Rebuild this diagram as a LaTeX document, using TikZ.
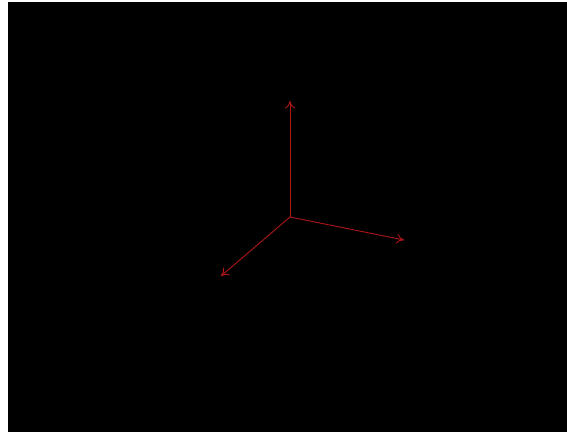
\documentclass[tikz,border=0pt]{standalone}
\usetikzlibrary{arrows.meta}
\definecolor{axisred}{RGB}{175,22,22}
\tikzset{axis/.style={draw=axisred,line width=0.9pt,-{To[length=7.5pt,width=10pt]}}}
\begin{document}
\begin{tikzpicture}[x=1pt,y=-1pt]
\useasboundingbox (0,0) rectangle (567,432);
\fill[black] (8,2) rectangle (567,432);
\coordinate (o) at (290,217);
\coordinate (z) at (290,101);
\coordinate (x) at (404,240);
\coordinate (y) at (221,276);
\draw[axis] (o) -- (z);
\draw[axis] (o) -- (x);
\draw[axis] (o) -- (y);
\end{tikzpicture}
\end{document}
